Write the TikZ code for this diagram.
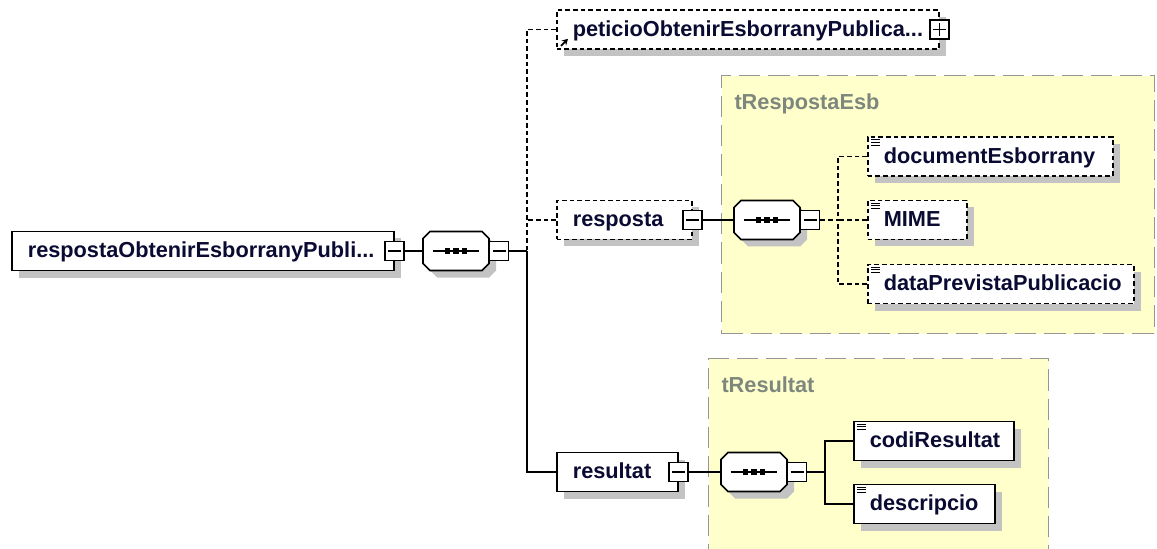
\documentclass[tikz,border=0pt]{standalone}
\usepackage{fontspec}
\setmainfont{Liberation Sans}
\usetikzlibrary{shadows,arrows.meta}

\definecolor{xsdtext}{RGB}{10,10,50}
\definecolor{xsdshadow}{RGB}{195,195,195}
\definecolor{xsdyellow}{RGB}{255,255,204}
\definecolor{xsdframe}{RGB}{150,150,150}
\definecolor{xsdlabel}{RGB}{125,135,125}

\tikzset{every picture/.style={line width=0.75pt}}
\tikzset{
  xsdshade/.style={drop shadow={shadow xshift=5.25pt, shadow yshift=-5.25pt, opacity=1, fill=xsdshadow}},
  xsdelem/.style={draw, line width=1.2pt, fill=white, rectangle, anchor=west, xsdshade,
    inner xsep=12pt, inner ysep=0pt, minimum height=29.25pt,
    text height=12.5pt, text depth=2.5pt, align=left, text=xsdtext,
    font={\fontsize{16.3}{19}\selectfont\bfseries\hyphenpenalty=10000}},
  optelem/.style={xsdelem, dash pattern=on 3.5pt off 2.25pt},
  seqbox/.style={rectangle, inner sep=0pt, minimum width=48.75pt, minimum height=28.5pt, anchor=west},
  octo/.style={draw, line width=1.2pt, fill=white, xsdshade},
  togglebox/.style={draw, line width=1.1pt, fill=white, rectangle, inner sep=0pt, minimum size=14.25pt},
  typebox/.style={draw=xsdframe, line width=1.1pt, dash pattern=on 16pt off 6pt, fill=xsdyellow,
    rectangle, anchor=north west, inner sep=0pt},
  typelabel/.style={anchor=base west, inner sep=0pt, text=xsdlabel,
    font={\fontsize{16.3}{19}\selectfont\bfseries}},
  link/.style={line width=1.2pt},
  optlink/.style={link, dash pattern=on 3.5pt off 2.25pt}
}

\begin{document}
\begin{tikzpicture}[x=0.75pt,y=0.75pt,yscale=-1,xscale=1]
\useasboundingbox (0,0) rectangle (1157,549);

% Type boxes
\node (tRespostaEsb) [typebox, minimum width=324.75pt, minimum height=193.5pt] at (721,75) {};
\node (tRespostaEsbL) [typelabel] at (734,110) {tRespostaEsb};
\node (tResultat) [typebox, minimum width=255pt, minimum height=165pt] at (708,358) {};
\node (tResultatL) [typelabel] at (721,392) {tResultat};

% Sequence compositors
\node (seq1) [seqbox] at (423,251) {};
\node (seq2) [seqbox] at (734,220) {};
\node (seq3) [seqbox] at (721,472) {};
\foreach \s in {seq1,seq2,seq3}
  \draw [octo] ([shift={(7,0)}]\s.north west) -- ([shift={(-7,0)}]\s.north east)
    -- ([shift={(0,7)}]\s.north east) -- ([shift={(0,-7)}]\s.south east)
    -- ([shift={(-7,0)}]\s.south east) -- ([shift={(7,0)}]\s.south west)
    -- ([shift={(0,-7)}]\s.south west) -- ([shift={(0,7)}]\s.north west) -- cycle;
\node (seq1M) [togglebox, anchor=west] at (seq1.east) {};
\node (seq2M) [togglebox, anchor=west] at (seq2.east) {};
\node (seq3M) [togglebox, anchor=west] at (seq3.east) {};
\coordinate (bus1) at (527,251);
\coordinate (bus2) at (838,220);
\coordinate (bus3) at (825,472);

% Root element
\node (rootElem) [xsdelem, text width=262.5pt] at (11,251) {respostaObtenirEsborranyPubli...};
\node (rootM) [togglebox] at (rootElem.east) {};

% Children of the root sequence
\node (peticio) [optelem, text width=262.5pt] at (556,29.5) {peticioObtenirEsborranyPublica...};
\node (peticioP) [togglebox] at (peticio.east) {};
\node (resposta) [optelem, text width=77.25pt] at (556,220) {resposta};
\node (respostaM) [togglebox] at (resposta.east) {};
\node (resultat) [xsdelem, text width=66.75pt] at (556,472) {resultat};
\node (resultatM) [togglebox] at (resultat.east) {};

% tRespostaEsb content
\node (docEsb) [optelem, text width=159.75pt] at (867,156.5) {documentEsborrany};
\node (mime) [optelem, text width=50.25pt] at (867,220) {MIME};
\node (dataPrev) [optelem, text width=175.5pt] at (867,284) {dataPrevistaPublicacio};

% tResultat content
\node (codiRes) [xsdelem, text width=96pt] at (853,441) {codiResultat};
\node (descr) [xsdelem, text width=81.75pt] at (853,504) {descripcio};

% Connectors
\draw [link] (rootM.east) -- (seq1.west);
\draw [link] (seq1M.east) -- (bus1);
\draw [optlink] (peticio.west) -| (bus1);
\draw [optlink] (resposta.west) -- (resposta.west -| bus1);
\draw [link] (resultat.west) -| (bus1);
\draw [link] (respostaM.east) -- (seq2.west);
\draw [optlink] (seq2M.east) -- (bus2);
\draw [optlink] (docEsb.west) -| (bus2);
\draw [optlink] (mime.west) -- (bus2);
\draw [optlink] (dataPrev.west) -| (bus2);
\draw [link] (resultatM.east) -- (seq3.west);
\draw [link] (seq3M.east) -- (bus3);
\draw [link] (codiRes.west) -| (bus3);
\draw [link] (descr.west) -| (bus3);

% Sequence marks
\foreach \s in {seq1,seq2,seq3}{
  \draw [line width=1pt] ([xshift=-17.5pt]\s.center) -- ([xshift=17.5pt]\s.center);
  \foreach \d in {-6.4,0,6.4}
    \fill ([xshift=\d pt]\s.center) ++(-2pt,-2pt) rectangle ++(4pt,4pt);
}

% Minus and plus signs
\foreach \m in {rootM,seq1M,respostaM,seq2M,resultatM,seq3M,peticioP}
  \draw [line width=0.9pt] ([xshift=-5pt]\m.center) -- ([xshift=5pt]\m.center);
\draw [line width=0.9pt] ([yshift=-5pt]peticioP.center) -- ([yshift=5pt]peticioP.center);

% Simple type icons
\foreach \n in {docEsb,mime,dataPrev,codiRes,descr}
  \foreach \k in {0,1,2}
    \draw [line width=0.7pt] ([shift={(4,3.5+2.7*\k)}]\n.north west) -- ++(9,0);

% Reference arrow
\draw [line width=1.3pt, -{Stealth[length=4.5pt,width=5pt]}] ([shift={(5,-4)}]peticio.south west) -- ++(7,-7);

\end{tikzpicture}
\end{document}
